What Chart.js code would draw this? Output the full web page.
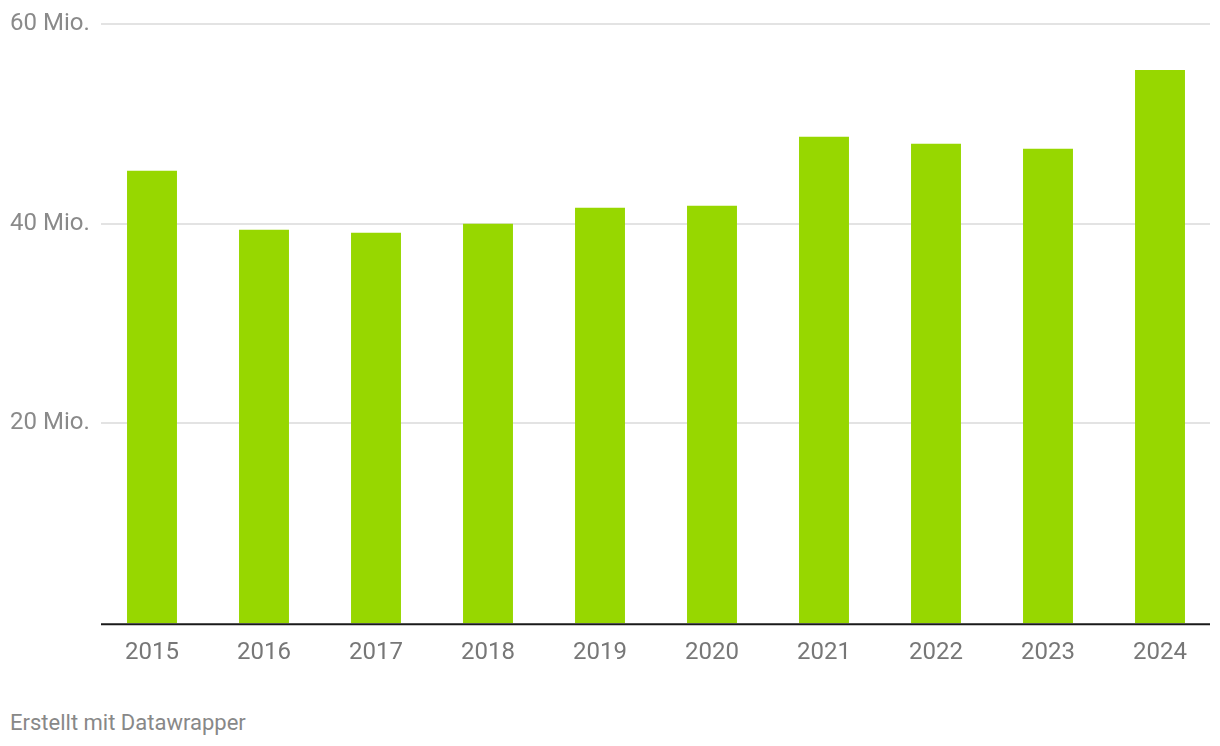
<!DOCTYPE html>
<html>
<head>
<meta charset="utf-8">
<script src="https://cdn.jsdelivr.net/npm/chart.js@4"></script>
<style>
  html, body { margin: 0; padding: 0; background: #fff; }
  #wrap { position: relative; width: 1220px; height: 746px; }
  #c { position: absolute; left: 0; top: 0; }
  #footer { position: absolute; left: 10px; top: 710px; font-family: Roboto, sans-serif; font-size: 22px; color: #888; }
</style>
</head>
<body>
<div id="wrap">
  <canvas id="c" width="1220" height="690"></canvas>
  <div id="footer">Erstellt mit Datawrapper</div>
</div>
<script>
const categories = ["2015","2016","2017","2018","2019","2020","2021","2022","2023","2024"];
const values = [45.3, 39.4, 39.1, 40.0, 41.6, 41.8, 48.7, 48.0, 47.5, 55.4];
const yTicks = [20, 40, 60];
const yTickLabels = {20: "20 Mio.", 40: "40 Mio.", 60: "60 Mio."};

const gridPlugin = {
  id: 'dwgrid',
  beforeDatasetsDraw(chart) {
    const ctx = chart.ctx, a = chart.chartArea, y = chart.scales.y;
    ctx.save();
    ctx.strokeStyle = '#e3e3e3';
    ctx.lineWidth = 2;
    yTicks.forEach(v => {
      const py = Math.round(y.getPixelForValue(v));
      ctx.beginPath();
      ctx.moveTo(a.left + 5, py);
      ctx.lineTo(a.right - 6, py);
      ctx.stroke();
    });
    ctx.restore();
  },
  afterDatasetsDraw(chart) {
    const ctx = chart.ctx, a = chart.chartArea, y = chart.scales.y;
    ctx.save();
    ctx.strokeStyle = '#1a1a1a';
    ctx.lineWidth = 2;
    const py = y.getPixelForValue(0) + 1;
    ctx.beginPath();
    ctx.moveTo(a.left + 5, py);
    ctx.lineTo(a.right - 6, py);
    ctx.stroke();
    ctx.restore();
  }
};

new Chart(document.getElementById('c'), {
  type: 'bar',
  data: {
    labels: categories,
    datasets: [{
      data: values,
      backgroundColor: '#97d700',
      categoryPercentage: 1.0,
      barPercentage: 0.446,
      borderWidth: 0
    }]
  },
  options: {
    responsive: false,
    animation: false,
    devicePixelRatio: 1,
    layout: { padding: { left: 10, right: 4, top: 24, bottom: 8 } },
    plugins: { legend: { display: false }, tooltip: { enabled: false } },
    scales: {
      x: {
        grid: { display: false, drawTicks: false },
        border: { display: false },
        ticks: { color: '#777', font: { family: 'Roboto', size: 24 }, padding: 15, maxRotation: 0 }
      },
      y: {
        min: 0, max: 60,
        afterFit(scale) { scale.width = 86; },
        grid: { display: false, drawTicks: false },
        border: { display: false },
        afterBuildTicks(scale) { scale.ticks = yTicks.map(v => ({ value: v })); },
        ticks: {
          crossAlign: 'far',
          padding: 0,
          color: '#8a8a8a',
          font: { family: 'Roboto', size: 24 },
          callback: (v) => yTickLabels[v] || ''
        }
      }
    }
  },
  plugins: [gridPlugin]
});
</script>
</body>
</html>
